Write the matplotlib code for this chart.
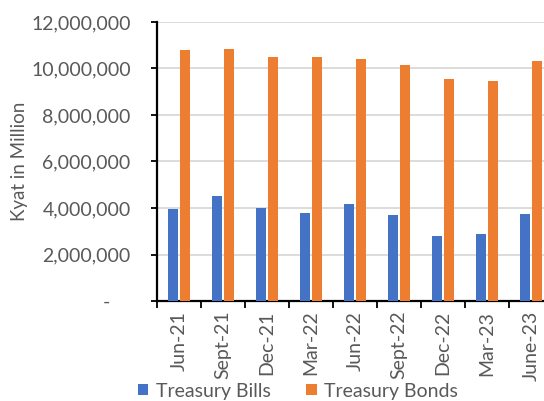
import numpy as np
import matplotlib
matplotlib.use('Agg')
import matplotlib.pyplot as plt
from matplotlib.ticker import FuncFormatter

# ── data (Kyat in million) ────────────────────────────────────────────────
periods = ['Jun-21', 'Sept-21', 'Dec-21', 'Mar-22', 'Jun-22',
           'Sept-22', 'Dec-22', 'Mar-23', 'June-23']
treasury_bills = [3960000, 4520000, 3980000, 3780000, 4170000,
                  3700000, 2810000, 2890000, 3740000]
treasury_bonds = [10800000, 10830000, 10500000, 10480000, 10400000,
                  10140000, 9560000, 9460000, 10310000]

BLUE = '#4472C4'
ORANGE = '#ED7D31'
GREY_TXT = '#595959'
GRID = '#D9D9D9'

plt.rcParams['font.family'] = ['Lato', 'DejaVu Sans']

fig = plt.figure(figsize=(5.44, 4.01), dpi=100)
ax = fig.add_axes([157 / 544, 1 - 301 / 401, (553 - 157) / 544, (301 - 22) / 401])

x = np.arange(len(periods))
w = 0.225
ax.bar(x - 0.143, treasury_bills, w, color=BLUE, label='Treasury Bills', zorder=3)
ax.bar(x + 0.143, treasury_bonds, w, color=ORANGE, label='Treasury Bonds', zorder=3)

ax.set_xlim(-0.5, len(periods) - 0.5)
ax.set_ylim(0, 12000000)
ax.set_yticks(np.arange(0, 12000001, 2000000))
ax.yaxis.set_major_formatter(FuncFormatter(lambda v, p: '-    ' if v == 0 else f'{v:,.0f}'))
ax.yaxis.grid(True, color=GRID, linewidth=1.3, zorder=0)

# category boundary ticks, labels at centres
ax.set_xticks(np.arange(-0.5, len(periods), 1.0))
ax.set_xticklabels([])
ax.set_xticks(x, minor=True)
ax.set_xticklabels(periods, minor=True, rotation=90, fontsize=14, color=GREY_TXT)
ax.tick_params(axis='x', which='major', length=5, width=1.3, direction='out', color='black')
ax.tick_params(axis='x', which='minor', length=0, pad=7)
ax.tick_params(axis='y', length=4, width=1.3, color='black', labelsize=14,
               labelcolor=GREY_TXT, pad=15)

for s in ('top', 'right'):
    ax.spines[s].set_visible(False)
for s in ('left', 'bottom'):
    ax.spines[s].set_linewidth(1.6)
    ax.spines[s].set_color('black')

ax.set_ylabel('Kyat in Million', fontsize=13.5, color=GREY_TXT, labelpad=2)

fig.legend(loc='center', bbox_to_anchor=(298 / 544, 1 - 391 / 401), ncol=2,
           frameon=False, fontsize=14, handlelength=0.55, handleheight=0.55,
           handletextpad=0.4, columnspacing=1.8, labelcolor=GREY_TXT,
           borderpad=0)

fig.savefig('out.png', dpi=100)
